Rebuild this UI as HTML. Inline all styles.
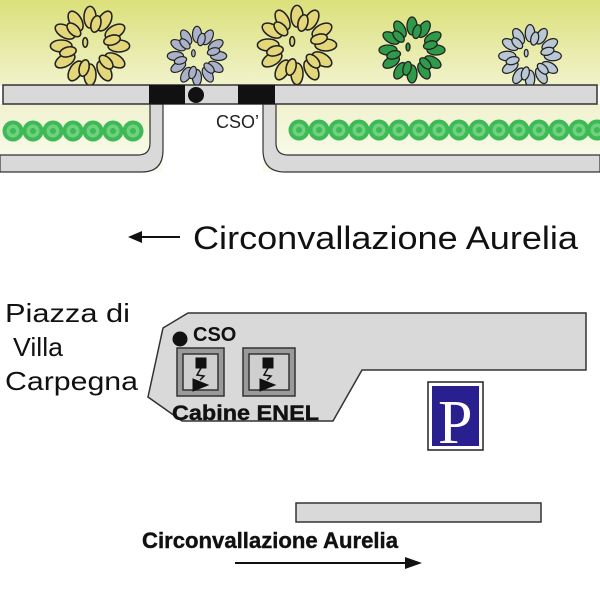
<!DOCTYPE html>
<html><head><meta charset="utf-8"><style>
html,body{margin:0;padding:0;background:#fff;}
svg{display:block;font-family:"Liberation Sans",sans-serif;}
</style></head><body>
<svg width="600" height="600" viewBox="0 0 600 600" xmlns="http://www.w3.org/2000/svg">
<defs>
<linearGradient id="g1" x1="0" y1="0" x2="0" y2="1">
<stop offset="0" stop-color="#dbe07a"/><stop offset="1" stop-color="#f1f3cc"/>
</linearGradient>
<linearGradient id="g2" x1="0" y1="0" x2="0" y2="1">
<stop offset="0" stop-color="#f0f2cf"/><stop offset="1" stop-color="#fbfcf0"/>
</linearGradient>
<g id="leafring">
<ellipse cx="0" cy="-24" rx="5" ry="9"/>
<ellipse cx="0" cy="-24" rx="5" ry="9" transform="rotate(30)"/>
<ellipse cx="0" cy="-24" rx="5" ry="9" transform="rotate(60)"/>
<ellipse cx="0" cy="-24" rx="5" ry="9" transform="rotate(90)"/>
<ellipse cx="0" cy="-24" rx="5" ry="9" transform="rotate(120)"/>
<ellipse cx="0" cy="-24" rx="5" ry="9" transform="rotate(150)"/>
<ellipse cx="0" cy="-24" rx="5" ry="9" transform="rotate(180)"/>
<ellipse cx="0" cy="-24" rx="5" ry="9" transform="rotate(210)"/>
<ellipse cx="0" cy="-24" rx="5" ry="9" transform="rotate(240)"/>
<ellipse cx="0" cy="-24" rx="5" ry="9" transform="rotate(270)"/>
<ellipse cx="0" cy="-24" rx="5" ry="9" transform="rotate(300)"/>
<ellipse cx="0" cy="-24" rx="5" ry="9" transform="rotate(330)"/>
<ellipse cx="0" cy="-19" rx="4" ry="7" transform="rotate(15)"/>
<ellipse cx="0" cy="-19" rx="4" ry="7" transform="rotate(75)"/>
<ellipse cx="0" cy="-19" rx="4" ry="7" transform="rotate(135)"/>
<ellipse cx="0" cy="-19" rx="4" ry="7" transform="rotate(195)"/>
<ellipse cx="0" cy="-19" rx="4" ry="7" transform="rotate(255)"/>
<ellipse cx="0" cy="-19" rx="4" ry="7" transform="rotate(315)"/>
<ellipse cx="-4" cy="-3" rx="2" ry="4"/>
</g>
<g id="hedge">
<circle r="10.5" fill="#3dba55"/>
<circle r="6.5" fill="#6fd080"/>
<circle r="3" fill="#3dba55"/>
</g>
</defs>

<rect x="0" y="0" width="600" height="86" fill="url(#g1)"/>
<rect x="0" y="104" width="600" height="68" fill="url(#g2)"/>
<rect x="163" y="104" width="100" height="70" fill="#fff"/>

<g stroke="#222" stroke-width="1.3">
<use href="#leafring" transform="translate(90,46) scale(1.2)" fill="#e3d77a"/>
<use href="#leafring" transform="translate(197,56) scale(0.9)" fill="#a9b2c8"/>
<use href="#leafring" transform="translate(297,45) scale(1.2)" fill="#e3d77a"/>
<use href="#leafring" transform="translate(412,50) scale(1.0)" fill="#2f9a4a"/>
<use href="#leafring" transform="translate(530,56) scale(0.95)" fill="#b9c8d4"/>
</g>

<g>
<use href="#hedge" x="13" y="131"/><use href="#hedge" x="33" y="131"/><use href="#hedge" x="53" y="131"/><use href="#hedge" x="73" y="131"/><use href="#hedge" x="93" y="131"/><use href="#hedge" x="113" y="131"/><use href="#hedge" x="133" y="131"/>
<use href="#hedge" x="299" y="130"/><use href="#hedge" x="319" y="130"/><use href="#hedge" x="339" y="130"/><use href="#hedge" x="359" y="130"/><use href="#hedge" x="379" y="130"/><use href="#hedge" x="399" y="130"/><use href="#hedge" x="419" y="130"/><use href="#hedge" x="439" y="130"/><use href="#hedge" x="459" y="130"/><use href="#hedge" x="479" y="130"/><use href="#hedge" x="499" y="130"/><use href="#hedge" x="519" y="130"/><use href="#hedge" x="539" y="130"/><use href="#hedge" x="559" y="130"/><use href="#hedge" x="579" y="130"/><use href="#hedge" x="597" y="130"/>
</g>

<path d="M150,104 V143 Q150,155 138,155 H0 V172 H142 Q163,172 163,150 V104 Z" fill="#d9d9d9" stroke="#333" stroke-width="1.2"/>
<path d="M276,104 V143 Q276,155 288,155 H600 V172 H285 Q263,172 263,150 V104 Z" fill="#d9d9d9" stroke="#333" stroke-width="1.2"/>

<rect x="3" y="85" width="594" height="19" fill="#d9d9d9" stroke="#333" stroke-width="1.5"/>
<rect x="149" y="85" width="36" height="19" fill="#111"/>
<rect x="238" y="85" width="37" height="19" fill="#111"/>
<circle cx="196" cy="95" r="8" fill="#111"/>
<text x="216" y="128" font-size="18" fill="#222">CSO’</text>

<line x1="138" y1="237" x2="180" y2="237" stroke="#111" stroke-width="2"/>
<polygon points="128,237 142,231 142,243" fill="#111"/>
<text x="193" y="249" font-size="32" fill="#111" textLength="385" lengthAdjust="spacingAndGlyphs">Circonvallazione Aurelia</text>

<text font-size="26" fill="#111">
<tspan x="5" y="322" textLength="125" lengthAdjust="spacingAndGlyphs">Piazza di</tspan>
<tspan x="13" y="356" textLength="50" lengthAdjust="spacingAndGlyphs">Villa</tspan>
<tspan x="5" y="390" textLength="133" lengthAdjust="spacingAndGlyphs">Carpegna</tspan></text>

<polygon points="163,328 188,313 586,313 586,370 362,370 333,421 182,421 148,397" fill="#d9d9d9" stroke="#333" stroke-width="1.5"/>
<circle cx="180" cy="339" r="7.5" fill="#111"/>
<text x="193" y="341" font-size="20" font-weight="bold" fill="#111">CSO</text>
<g stroke="#333" stroke-width="1.5">
<rect x="177" y="348" width="47" height="48" fill="#9a9a9a"/>
<rect x="183" y="354" width="35" height="36" fill="#cfcfcf"/>
<rect x="243" y="348" width="52" height="48" fill="#9a9a9a"/>
<rect x="249" y="354" width="40" height="36" fill="#cfcfcf"/>
</g>
<g fill="#111" stroke="#111">
<rect x="196" y="358" width="10" height="10"/>
<polyline points="201,368 197,375 204,376 200,380" fill="none" stroke-width="1.5"/>
<polygon points="193,379 193,391 208,385"/>
<rect x="263" y="358" width="10" height="10"/>
<polyline points="268,368 264,375 271,376 267,380" fill="none" stroke-width="1.5"/>
<polygon points="260,379 260,391 275,385"/>
</g>
<text x="172" y="420" font-size="21" font-weight="bold" fill="#111" textLength="147" lengthAdjust="spacingAndGlyphs" stroke="#111" stroke-width="0.4">Cabine ENEL</text>

<rect x="428" y="382" width="55" height="68" fill="#fff" stroke="#222" stroke-width="1.5"/>
<rect x="432" y="386" width="47" height="60" fill="#2a1f8f"/>
<text x="438" y="443" font-size="62" fill="#fff" font-family="Liberation Serif, serif">P</text>

<rect x="296" y="503" width="245" height="19" fill="#d9d9d9" stroke="#333" stroke-width="1.5"/>
<text x="142" y="548" font-size="22" font-weight="bold" fill="#111" textLength="256" lengthAdjust="spacingAndGlyphs" stroke="#111" stroke-width="0.4">Circonvallazione Aurelia</text>
<line x1="235" y1="563" x2="410" y2="563" stroke="#111" stroke-width="2"/>
<polygon points="422,563 405,557 405,569" fill="#111"/>
</svg>
</body></html>
